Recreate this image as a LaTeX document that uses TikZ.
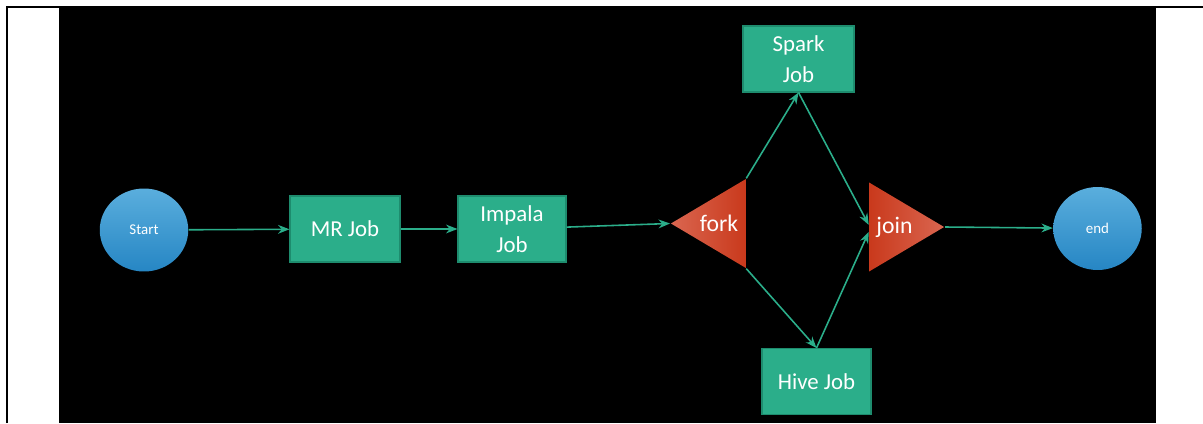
\documentclass[tikz,border=0pt]{standalone}
\usepackage{fontspec}
\setmainfont{Carlito}
\usetikzlibrary{shapes.geometric,arrows.meta}

\definecolor{jobgreen}{HTML}{2BAE8A}
\definecolor{jobedge}{HTML}{1E8C6E}
\definecolor{flowline}{HTML}{2BAE8A}
\definecolor{bluetop}{HTML}{5AAEDD}
\definecolor{bluebot}{HTML}{2686C4}
\definecolor{gatered}{HTML}{C9391C}
\definecolor{gatelight}{HTML}{DA6650}

\tikzset{
    job/.style={draw=jobedge, line width=0.6pt, fill=jobgreen, text=white,
        minimum width=2.2cm, minimum height=1.32cm, inner sep=0pt,
        align=center, font=\fontsize{13}{17.6}\selectfont},
    terminal/.style={ellipse, top color=bluetop, bottom color=bluebot,
        text=white, minimum width=1.77cm, minimum height=1.66cm,
        font=\fontsize{8.5}{9}\selectfont},
    gate/.style={isosceles triangle, isosceles triangle stretches,
        text=white, inner sep=0pt, minimum width=1.78cm, minimum height=1.5cm,
        font=\fontsize{13.5}{14}\selectfont},
}

\begin{document}
\begin{tikzpicture}[x=0.02cm, y=-0.02cm,
        >={Stealth[length=6.5pt, width=5pt]},
        flow/.style={->, draw=flowline, line width=0.9pt}]
    \useasboundingbox[fill=white] (0,0) rectangle (1203,423);
    % slide area and frame
    \fill[black] (59,8) rectangle (1156,423);
    \draw[line width=1.1pt] (7,423) -- (7,7) -- (1203,7);

        \node[terminal] (start) at (144,230) {Start};
        \node[job] (mr) at (345,229) {MR Job};
        \node[job, minimum width=2.16cm] (impala) at (512,229) {Impala\\Job};
        \node[gate, shape border rotate=180, anchor=apex,
            left color=gatelight, right color=gatered] (fork) at (670,223.5) {fork};
        \node[job, minimum width=2.22cm] (spark) at (798.5,59) {Spark\\Job};
        \node[job, minimum width=2.18cm] (hive) at (816.5,381.5) {Hive Job};
        \node[gate, anchor=apex,
            left color=gatered, right color=gatelight] (join) at (945,227) {join};
        \node[terminal] (end) at (1097.5,228.5) {end};

        \draw[flow] (start) -- (mr);
        \draw[flow] (mr) -- (impala);
        \draw[flow] (impala) -- (fork.apex);
        \draw[flow] (fork.right corner) -- (spark.south);
        \draw[flow] (fork.left corner) -- (hive.north);
        \draw[flow] (spark.south) -- ([yshift=1.2pt]join.lower side);
        \draw[flow] (hive.north) -- ([yshift=-2.8pt]join.lower side);
        \draw[flow] (join.apex) -- (end);
\end{tikzpicture}
\end{document}
